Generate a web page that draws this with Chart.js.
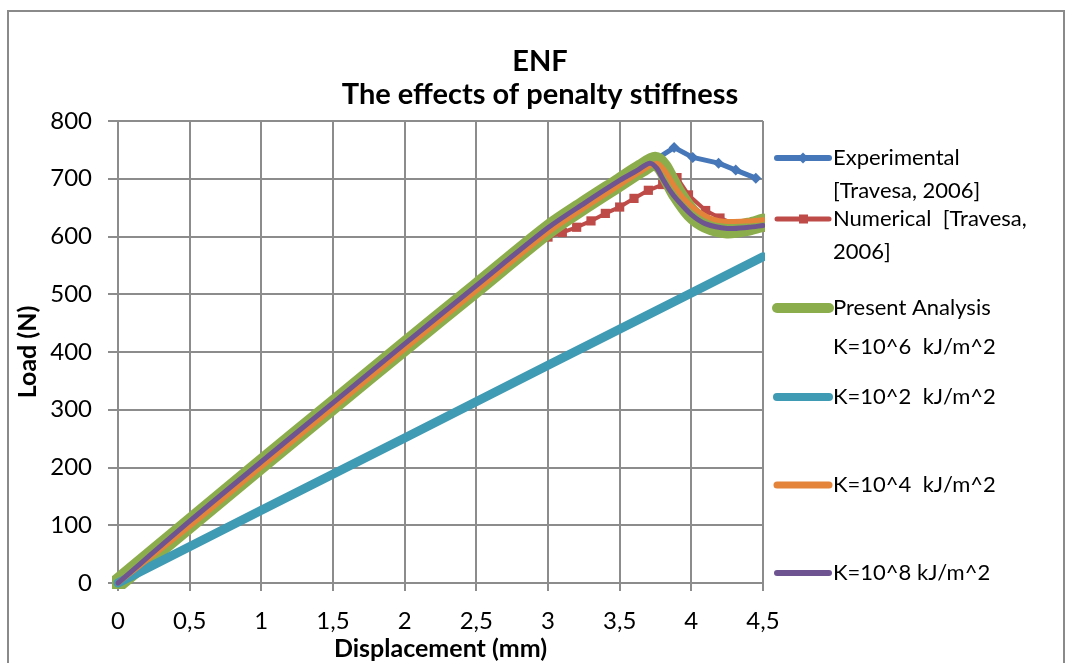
<!DOCTYPE html>
<html>
<head>
<meta charset="utf-8">
<script src="https://cdn.jsdelivr.net/npm/chart.js@4.4.1/dist/chart.umd.min.js"></script>
<style>
html, body { margin: 0; padding: 0; background: #fff; }
#wrap { width: 1073px; height: 663px; }
</style>
</head>
<body>
<div id="wrap"><canvas id="grafico" width="1073" height="663"></canvas></div>
<script>
// Desplazamiento (mm) / Carga (N)
const expX = [0, 0.5, 1, 1.5, 2, 2.5, 3, 3.5, 3.76, 3.88, 4.01, 4.19, 4.31, 4.45];
const expY = [0, 103, 206, 308, 410, 511, 612, 694, 735, 754, 737, 727, 715, 701];

const numX = [0, 0.5, 1, 1.5, 2, 2.5, 2.9, 3.0, 3.1, 3.2, 3.3, 3.4, 3.5, 3.6, 3.7, 3.8, 3.9, 3.98, 4.1, 4.2, 4.3, 4.4, 4.5];
const numY = [0, 102, 204, 306, 408, 508, 590, 599, 607, 616, 627, 640, 651, 666, 680, 690, 702, 672, 645, 632, 622, 618, 616];

const k6X = [0, 0.5, 1, 1.5, 2, 2.5, 3, 3.25, 3.5, 3.65, 3.75, 3.8, 3.85, 3.9, 4.0, 4.1, 4.25, 4.4, 4.5];
const k6Y = [0, 103, 206, 308, 410, 511, 612, 654, 694, 718, 731, 720, 697, 674, 640, 622, 612, 617, 624];

const k2X = [0, 1, 2, 3, 4, 4.5];
const k2Y = [0, 126, 251, 377, 502, 565];

const k4X = [0, 0.5, 1, 1.5, 2, 2.5, 3, 3.25, 3.5, 3.65, 3.76, 3.82, 3.88, 3.95, 4.05, 4.15, 4.25, 4.4, 4.5];
const k4Y = [0, 98, 201, 303, 405, 506, 607, 649, 689, 713, 727, 712, 688, 665, 643, 630, 626, 627, 629];

const k8X = [0, 0.5, 1, 1.5, 2, 2.5, 3, 3.25, 3.5, 3.62, 3.71, 3.76, 3.8, 3.85, 3.9, 4.0, 4.1, 4.25, 4.4, 4.5];
const k8Y = [0, 107, 210, 312, 414, 515, 615, 657, 697, 714, 727, 718, 700, 680, 664, 638, 622, 614, 616, 619];

const etiquetas = ['Experimental\n[Travesa, 2006]', 'Numerical  [Travesa,\n2006]', 'Present Analysis\nK=10^6  kJ/m^2', 'K=10^2  kJ/m^2', 'K=10^4  kJ/m^2', 'K=10^8 kJ/m^2'];
const colores = ['#4677b8', '#be4b48', '#8cad4c', '#3f9ab3', '#e4843a', '#6e5591'];

const puntos = (xs, ys) => xs.map((x, i) => ({ x: x, y: ys[i] }));

const fuente = 'Lato, "Open Sans", sans-serif';
const gris = '#8c8c8c';

// posicion vertical de cada entrada de la leyenda
const leyendaY = [158, 219, 308, 397, 485, 573];

const series = [
    { data: puntos(expX, expY), borderWidth: 5, pointStyle: 'rectRot', pointRadius: 5.5, grosor: 6 },
    { data: puntos(numX, numY), borderWidth: 4, pointStyle: 'rect', pointRadius: 6.5, grosor: 5 },
    { data: puntos(k6X, k6Y), borderWidth: 18, pointRadius: 0, grosor: 10 },
    { data: puntos(k2X, k2Y), borderWidth: 9, pointRadius: 0, grosor: 8 },
    { data: puntos(k4X, k4Y), borderWidth: 5, pointRadius: 0, grosor: 7 },
    { data: puntos(k8X, k8Y), borderWidth: 5, pointRadius: 0, grosor: 6 },
];

const datasets = series.map((s, i) => ({
    label: etiquetas[i],
    data: s.data,
    showLine: true,
    borderColor: colores[i],
    backgroundColor: colores[i],
    borderWidth: s.borderWidth,
    grosor: s.grosor,
    pointStyle: s.pointStyle || 'circle',
    pointRadius: s.pointRadius,
    pointBorderWidth: 0,
    borderCapStyle: 'round',
    borderJoinStyle: 'round',
    tension: 0.3,
    order: series.length - i, // Excel dibuja la ultima serie encima
    clip: { left: 6, top: 10, right: 2, bottom: 6 }
}));
datasets[0].tension = 0;
datasets[1].tension = 0;
datasets[3].tension = 0;

// Marco, titulo y leyenda
const decorado = {
    id: 'decorado',
    beforeDraw(chart) {
        const ctx = chart.ctx;
        ctx.save();
        ctx.fillStyle = '#fff';
        ctx.fillRect(0, 0, chart.width, chart.height);
        ctx.strokeStyle = '#8a8a8a';
        ctx.lineWidth = 2;
        ctx.strokeRect(8, 11, 1056, 700);
        ctx.restore();
    },
    afterDraw(chart) {
        const ctx = chart.ctx;
        ctx.save();
        ctx.fillStyle = '#000';
        ctx.textAlign = 'center';
        ctx.textBaseline = 'middle';
        ctx.font = 'bold 29px ' + fuente;
        ctx.fillText('ENF', 540, 62);
        ctx.fillText('The effects of penalty stiffness', 540, 95);

        ctx.font = '22px ' + fuente;
        ctx.textAlign = 'left';
        chart.data.datasets.forEach((ds, i) => {
            const y = leyendaY[i];
            ctx.strokeStyle = ds.borderColor;
            ctx.lineWidth = ds.grosor;
            ctx.lineCap = 'round';
            ctx.beginPath();
            ctx.moveTo(777, y);
            ctx.lineTo(829, y);
            ctx.stroke();
            if (ds.pointRadius > 0) {
                ctx.fillStyle = ds.borderColor;
                if (ds.pointStyle === 'rect') {
                    ctx.fillRect(799, y - 4.5, 9, 9);
                } else {
                    ctx.beginPath();
                    ctx.moveTo(803, y - 5.5);
                    ctx.lineTo(808.5, y);
                    ctx.lineTo(803, y + 5.5);
                    ctx.lineTo(797.5, y);
                    ctx.closePath();
                    ctx.fill();
                }
            }
            ctx.fillStyle = '#000';
            ds.label.split('\n').forEach((linea, j) => {
                ctx.fillText(linea, 833, y + j * (i === 2 ? 39 : 33));
            });
        });
        ctx.restore();
    }
};

new Chart(document.getElementById('grafico'), {
    type: 'scatter',
    data: { datasets },
    options: {
        responsive: false,
        devicePixelRatio: 1,
        animation: false,
        layout: { padding: { left: 10, top: 121, right: 310, bottom: 0 } },
        plugins: {
            legend: { display: false },
            title: { display: false },
            tooltip: { enabled: false }
        },
        scales: {
            x: {
                type: 'linear',
                min: 0,
                max: 4.5,
                afterFit: (s) => { s.height = 80; },
                ticks: {
                    stepSize: 0.5,
                    color: '#000',
                    padding: 16,
                    font: { family: fuente, size: 24 },
                    callback: (v) => String(v).replace('.', ',')
                },
                grid: { color: gris, lineWidth: 2, tickLength: 8 },
                border: { color: gris, width: 2 },
                title: {
                    display: true,
                    text: 'Displacement (mm)',
                    color: '#000',
                    font: { family: fuente, size: 25, weight: 'bold' },
                    padding: { top: 0, bottom: -1 }
                }
            },
            y: {
                min: 0,
                max: 800,
                afterFit: (s) => { s.width = 108; },
                ticks: {
                    stepSize: 100,
                    color: '#000',
                    padding: 16,
                    font: { family: fuente, size: 24 }
                },
                grid: { color: gris, lineWidth: 2, tickLength: 10 },
                border: { color: gris, width: 2 },
                title: {
                    display: true,
                    text: 'Load (N)',
                    color: '#000',
                    font: { family: fuente, size: 25, weight: 'bold' },
                    padding: { top: 3, bottom: 0 }
                }
            }
        }
    },
    plugins: [decorado]
});
</script>
</body>
</html>
